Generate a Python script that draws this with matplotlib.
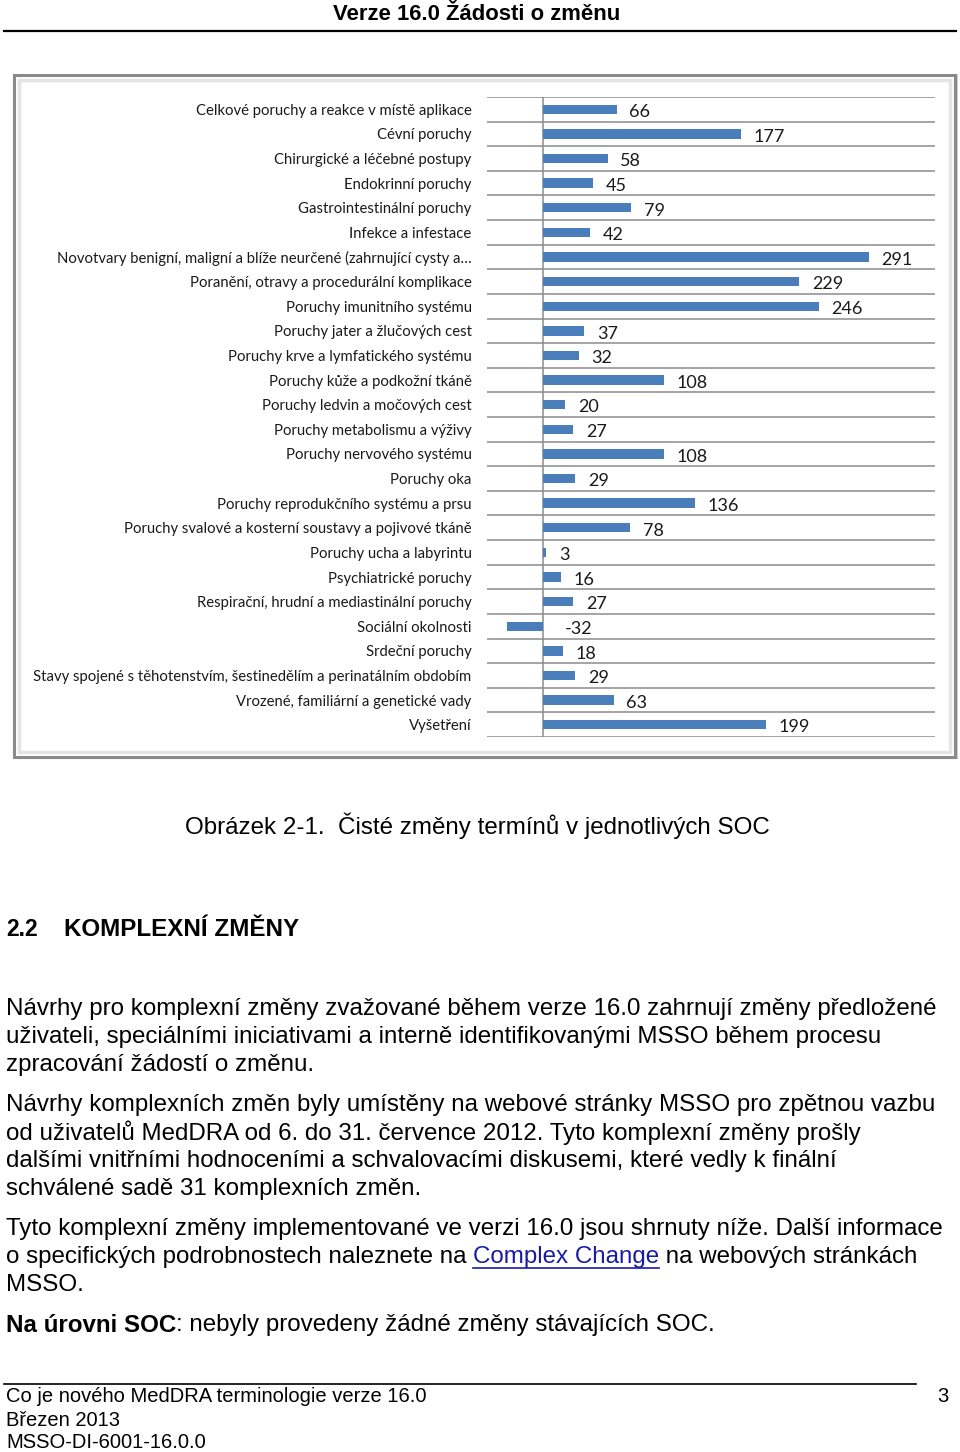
import matplotlib.pyplot as plt
from matplotlib.patches import Rectangle
from matplotlib.lines import Line2D

# SOC categories and net change of terms
categories = [
    "Celkové poruchy a reakce v místě aplikace",
    "Cévní poruchy",
    "Chirurgické a léčebné postupy",
    "Endokrinní poruchy",
    "Gastrointestinální poruchy",
    "Infekce a infestace",
    "Novotvary benigní, maligní a blíže neurčené (zahrnující cysty a…",
    "Poranění, otravy a procedurální komplikace",
    "Poruchy imunitního systému",
    "Poruchy jater a žlučových cest",
    "Poruchy krve a lymfatického systému",
    "Poruchy kůže a podkožní tkáně",
    "Poruchy ledvin a močových cest",
    "Poruchy metabolismu a výživy",
    "Poruchy nervového systému",
    "Poruchy oka",
    "Poruchy reprodukčního systému a prsu",
    "Poruchy svalové a kosterní soustavy a pojivové tkáně",
    "Poruchy ucha a labyrintu",
    "Psychiatrické poruchy",
    "Respirační, hrudní a mediastinální poruchy",
    "Sociální okolnosti",
    "Srdeční poruchy",
    "Stavy spojené s těhotenstvím, šestinedělím a perinatálním obdobím",
    "Vrozené, familiární a genetické vady",
    "Vyšetření",
]
values = [66, 177, 58, 45, 79, 42, 291, 229, 246, 37, 32, 108, 20, 27,
          108, 29, 136, 78, 3, 16, 27, -32, 18, 29, 63, 199]

header = "Verze 16.0 Žádosti o změnu"
caption = "Obrázek 2-1.  Čisté změny termínů v jednotlivých SOC"
para1 = ["Návrhy pro komplexní změny zvažované během verze 16.0 zahrnují změny předložené",
         "uživateli, speciálními iniciativami a interně identifikovanými MSSO během procesu",
         "zpracování žádostí o změnu."]
para2 = ["Návrhy komplexních změn byly umístěny na webové stránky MSSO pro zpětnou vazbu",
         "od uživatelů MedDRA od 6. do 31. července 2012. Tyto komplexní změny prošly",
         "dalšími vnitřními hodnoceními a schvalovacími diskusemi, které vedly k finální",
         "schválené sadě 31 komplexních změn."]
footer = ["Co je nového MedDRA terminologie verze 16.0", "Březen 2013", "MSSO-DI-6001-16.0.0"]

W, H = 960, 1452
fig = plt.figure(figsize=(W / 100, H / 100), dpi=100)
fig.canvas.draw()
r = fig.canvas.get_renderer()
body = "Liberation Sans"


def fy(y):
    return 1 - y / H


def fx(x):
    return x / W


def fit_size(s, width, weight="normal"):
    # font size that makes the string about `width` pixels wide
    t = fig.text(0, 0, s, fontsize=10, family=body, fontweight=weight)
    w = t.get_window_extent(r).width
    t.remove()
    return 10 * width / w


def put(x, y, s, size, **kw):
    t = fig.text(fx(x), fy(y), s, ha="left", va="center", fontsize=size, family=body, **kw)
    return t.get_window_extent(r)


# page header
hs = fit_size(header, 289, "bold")
fig.text(fx(477), fy(15), header, ha="center", va="center", fontsize=hs,
         fontweight="bold", family=body)
fig.add_artist(Line2D([fx(4), fx(956)], [fy(31), fy(31)], color="black", lw=1.6))

# chart frame with a bit of shadow
fig.add_artist(Rectangle((fx(16), fy(759)), fx(942), 685 / H, facecolor="#cfcfcf",
                         edgecolor="none", zorder=0))
fig.add_artist(Rectangle((fx(14), fy(757)), fx(941), 682 / H, facecolor="white",
                         edgecolor="#8a8a8a", lw=2.2, zorder=0.5))
fig.add_artist(Rectangle((fx(19), fy(752)), fx(931), 672 / H, facecolor="none",
                         edgecolor="#e4e4e4", lw=2.5, zorder=0.6))

# the bar chart
ax = fig.add_axes([fx(487), fy(737), fx(448), 640 / H])
ax.set_zorder(2)
ypos = list(range(len(categories)))
ax.barh(ypos, values, height=0.38, color="#4a7ebb", zorder=3)
ax.set_xlim(-50, 350)
ax.set_ylim(len(categories) - 0.5, -0.5)
for b in range(len(categories) + 1):
    ax.axhline(b - 0.5, color="#8c8c8c", lw=1.1, zorder=1)
ax.axvline(0, color="#8c8c8c", lw=1.1, zorder=2)
for i, v in enumerate(values):
    off = 9 if v >= 0 else 16
    ax.annotate(str(v), (max(v, 0), i), xytext=(off, -2), textcoords="offset points",
                ha="left", va="center", fontsize=13, family="Lato", color="#1a1a1a")
ax.set_xticks([])
ax.set_yticks(ypos)
ax.set_yticklabels(categories, fontsize=10.7, family="Lato", color="#1a1a1a")
ax.tick_params(axis="y", length=0, pad=11)
for s in ax.spines.values():
    s.set_visible(False)
ax.patch.set_alpha(0)

# caption and section heading
put(185, 826, caption, fit_size(caption, 585))
put(6, 930, "2.2", 16.5, fontweight="bold")
put(64, 930, "KOMPLEXNÍ ZMĚNY", fit_size("KOMPLEXNÍ ZMĚNY", 234, "bold"), fontweight="bold")

# paragraphs
s1 = fit_size(para1[0], 934)
for k, line in enumerate(para1):
    put(6, 1009 + 28 * k, line, s1)
s2 = fit_size(para2[0], 932)
for k, line in enumerate(para2):
    put(6, 1105 + 28 * k, line, s2)

p3 = "Tyto komplexní změny implementované ve verzi 16.0 jsou shrnuty níže. Další informace"
s3 = fit_size(p3, 940)
put(6, 1229, p3, s3)
bb = put(6, 1257, "o specifických podrobnostech naleznete na ", s3)
lb = put(bb.x1, 1257, "Complex Change", s3, color="#1a1aa6")
fig.add_artist(Line2D([lb.x0 / W, lb.x1 / W], [fy(1268), fy(1268)], color="#1a1aa6", lw=1.2))
put(lb.x1, 1257, " na webových stránkách", s3)
put(6, 1285, "MSSO.", s3)

bb2 = put(6, 1325, "Na úrovni SOC", s3, fontweight="bold")
put(bb2.x1, 1325, ": nebyly provedeny žádné změny stávajících SOC.", s3)

# footer
fig.add_artist(Line2D([fx(4), fx(916)], [fy(1384), fy(1384)], color="black", lw=1.2))
sf = fit_size(footer[0], 421)
for k, line in enumerate(footer):
    put(6, 1397 + 23 * k, line, sf)
fig.text(fx(948), fy(1396), "3", ha="right", va="center", fontsize=sf, family=body)

fig.savefig("out.png", dpi=100)
